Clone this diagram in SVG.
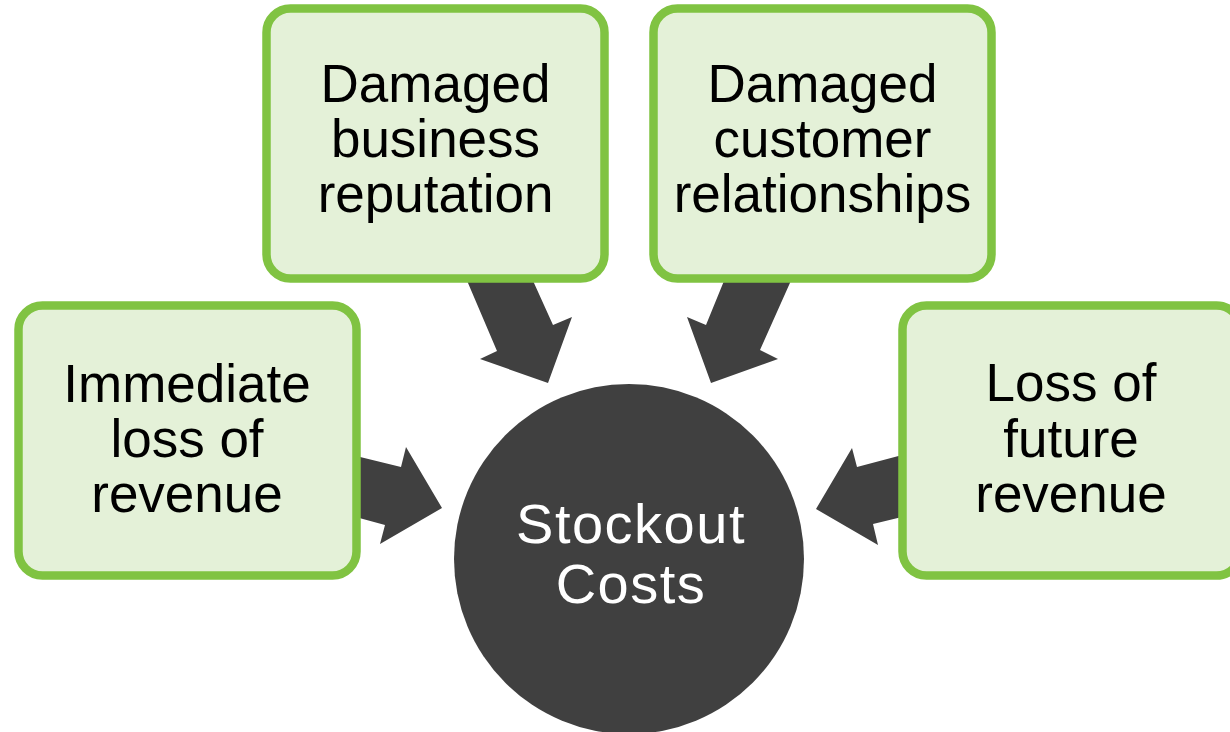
<svg xmlns="http://www.w3.org/2000/svg" width="1230" height="732" viewBox="0 0 1230 732">
  <style>
    .box { fill: #E4F1D8; stroke: #80C342; stroke-width: 8.5; }
    .lbl { font-family: "Liberation Sans", Arial, sans-serif; font-size: 53px; fill: #000000; text-anchor: middle; }
    .ctr { font-family: "Liberation Sans", Arial, sans-serif; font-size: 56px; letter-spacing: 1.5px; fill: #FFFFFF; text-anchor: middle; }
    .arrow { fill: #404040; }
  </style>
  <rect width="1230" height="732" fill="#FFFFFF"/>
  <g id="connectors">
    <polygon class="arrow" points="464.6,275 497,351 480,359 548,383 572,317 553,325 530.4,275"/>
    <polygon class="arrow" points="726.4,275 706,325 687,317 711,383 778,359 760,350 793.5,275"/>
    <polygon class="arrow" points="352,455 401,467 406,447 442,508 380,544 385,525 352,516"/>
    <polygon class="arrow" points="906,454 857,467 852,448 816,509 878,545 873,524 906,516"/>
  </g>
  <g id="node-center">
    <circle cx="629" cy="559" r="175" fill="#404040"/>
    <text class="ctr" x="631" y="543">Stockout</text>
    <text class="ctr" x="631" y="603">Costs</text>
  </g>
  <g id="node-reputation">
    <rect class="box" x="266.5" y="8.5" width="338" height="270" rx="24"/>
    <text class="lbl" x="435.5" y="102">Damaged</text>
    <text class="lbl" x="435.5" y="157">business</text>
    <text class="lbl" x="435.5" y="212">reputation</text>
  </g>
  <g id="node-relationships">
    <rect class="box" x="653.5" y="8.5" width="338" height="270" rx="24"/>
    <text class="lbl" x="822.5" y="102">Damaged</text>
    <text class="lbl" x="822.5" y="157">customer</text>
    <text class="lbl" x="822.5" y="212">relationships</text>
  </g>
  <g id="node-immediate">
    <rect class="box" x="18.5" y="305.5" width="338" height="270" rx="24"/>
    <text class="lbl" x="187" y="402">Immediate</text>
    <text class="lbl" x="187" y="457">loss of</text>
    <text class="lbl" x="187" y="512">revenue</text>
  </g>
  <g id="node-future">
    <rect class="box" x="902.5" y="305.5" width="338" height="270" rx="24"/>
    <text class="lbl" x="1071" y="401">Loss of</text>
    <text class="lbl" x="1071" y="457">future</text>
    <text class="lbl" x="1071" y="512">revenue</text>
  </g>
</svg>
